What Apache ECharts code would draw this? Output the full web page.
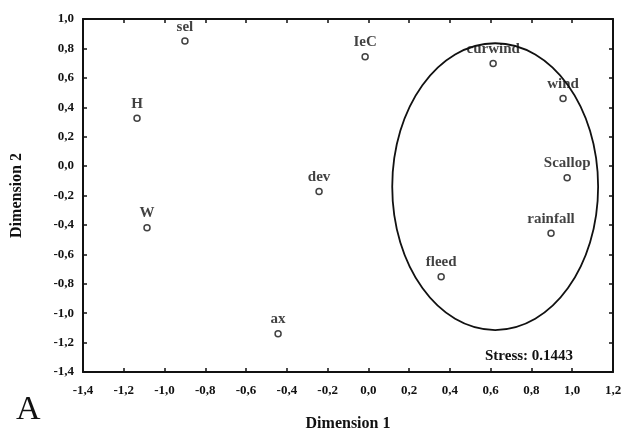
<!DOCTYPE html>
<html lang="en">
<head>
  <meta charset="UTF-8">
  <title>MDS plot</title>
  <style>
    * { margin: 0; padding: 0; box-sizing: border-box; }
    body { background: #fff; }
    #chart { width: 635px; height: 437px; }
  </style>
</head>
<body>
  <div id="chart"></div>
<script src="https://cdn.jsdelivr.net/npm/echarts@6/dist/echarts.min.js"></script>
<script>
  // point labels and their coordinates
  const labels = ['sel', 'H', 'W', 'ax', 'dev', 'IeC', 'curwind', 'wind', 'Scallop', 'rainfall', 'fleed']
  const dim1 = [-0.90, -1.135, -1.086, -0.443, -0.242, -0.016, 0.612, 0.955, 0.975, 0.896, 0.357]
  const dim2 = [0.85, 0.326, -0.42, -1.14, -0.173, 0.744, 0.697, 0.46, -0.08, -0.457, -0.753]

  // ellipse: centre x, centre y, radius x, radius y (data units)
  const ellipse = [0.622, -0.14, 0.505, 0.975]

  const stressText = 'Stress: 0.1443'
  const font = 'Liberation Serif'

  const fmt = v => v.toFixed(1).replace('.', ',')

  const points = labels.map((name, i) => ({ name: name, value: [dim1[i], dim2[i]] }))

  const axisCommon = {
    axisLine: { show: true, onZero: false, lineStyle: { color: '#111', width: 2 } },
    axisTick: { show: true, inside: true, length: 4, lineStyle: { color: '#111', width: 1.5 } },
    splitLine: { show: false }
  }

  const nameStyle = { fontFamily: font, fontWeight: 'bold', fontSize: 16, color: '#111' }
  const tickStyle = { formatter: fmt, fontFamily: font, fontWeight: 'bold', fontSize: 13, color: '#111' }

  const chart = echarts.init(document.getElementById('chart'))
  chart.setOption({
    animation: false,
    backgroundColor: '#fff',
    grid: { left: 83, top: 19, right: 22, bottom: 62 },
    xAxis: [{
      type: 'value', min: -1.4, max: 1.2, interval: 0.2,
      name: 'Dimension 1', nameLocation: 'middle', nameGap: 44,
      nameTextStyle: nameStyle,
      axisLabel: { ...tickStyle, margin: 12 },
      ...axisCommon
    }, {
      type: 'value', min: -1.4, max: 1.2, interval: 0.2, position: 'top',
      axisLabel: { show: false },
      ...axisCommon
    }],
    yAxis: [{
      type: 'value', min: -1.4, max: 1.0, interval: 0.2,
      name: 'Dimension 2', nameLocation: 'middle', nameGap: 58, nameRotate: 90,
      nameTextStyle: nameStyle,
      axisLabel: { ...tickStyle, margin: 9 },
      ...axisCommon
    }, {
      type: 'value', min: -1.4, max: 1.0, interval: 0.2, position: 'right',
      axisLabel: { show: false },
      ...axisCommon
    }],
    series: [{
      type: 'scatter',
      data: points,
      symbol: 'circle',
      symbolSize: 6,
      itemStyle: { color: '#fff', borderColor: '#111', borderWidth: 1.5 },
      label: {
        show: true, position: 'top', distance: 3,
        formatter: p => p.name,
        fontFamily: font, fontWeight: 'bold', fontSize: 15, color: '#111'
      },
      z: 3
    }, {
      type: 'custom',
      data: [ellipse],
      silent: true,
      renderItem: function (params, api) {
        const c = api.coord([api.value(0), api.value(1)])
        const s = api.size([api.value(2), api.value(3)])
        return {
          type: 'ellipse',
          shape: { cx: c[0], cy: c[1], rx: s[0], ry: s[1] },
          style: { fill: null, stroke: '#111', lineWidth: 1.8 }
        }
      },
      z: 2
    }],
    graphic: [{
      type: 'text', left: 485, top: 349,
      style: { text: stressText, font: 'bold 15px "' + font + '"', fill: '#111' }
    }, {
      type: 'text', left: 16, top: 393,
      style: { text: 'A', font: '34px "' + font + '"', fill: '#111' }
    }]
  })
</script>
</body>
</html>
